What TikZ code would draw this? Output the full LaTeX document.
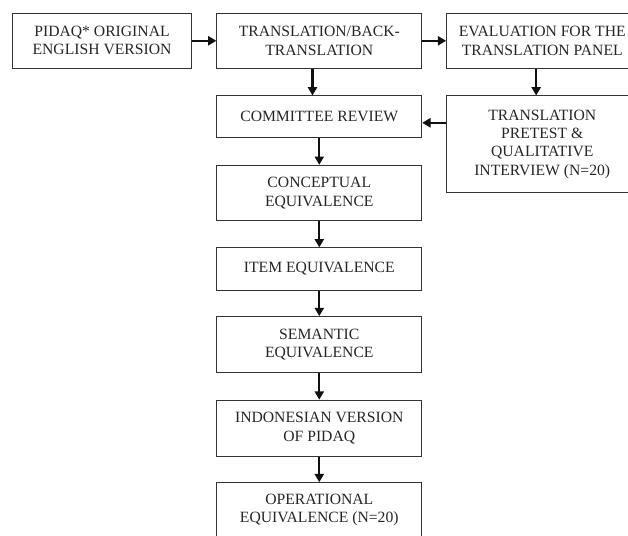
\documentclass[tikz,border=0pt]{standalone}
\usepackage{fontspec}
\setmainfont{Liberation Serif}
\usetikzlibrary{arrows.meta}
\definecolor{pidaqDark}{HTML}{262626}
\definecolor{pidaqLine}{HTML}{333333}
\definecolor{pidaqArrow}{HTML}{111111}
\tikzset{
  pidaq box/.style={
    draw=pidaqLine, line width=0.75pt, fill=white,
    align=center, inner sep=0pt, text=pidaqDark,
    font=\fontsize{11.8}{13.7}\selectfont,
  },
  pidaq arrow/.style={
    pidaqArrow, line width=1.8pt,
    -{Triangle[length=2.2mm, width=2.4mm]},
  },
}

\begin{document}
\begin{tikzpicture}[line join=miter]
  % Frame (page is cut at the right and bottom edge)
  \useasboundingbox (0,0) rectangle (16.62,14.16);
  \clip (0,0) rectangle (16.62,14.16);

  % ---- Top row ----
  \node[pidaq box, minimum width=4.74cm, minimum height=1.46cm] (orig)
    at (2.70,13.08) {PIDAQ* ORIGINAL\\ENGLISH VERSION};
  \node[pidaq box, minimum width=5.42cm, minimum height=1.46cm] (transl)
    at (8.45,13.08) {TRANSLATION/BACK-\\TRANSLATION};
  \node[pidaq box, minimum width=5.06cm, minimum height=1.46cm] (panel)
    at (14.35,13.08) {EVALUATION FOR THE\\TRANSLATION PANEL};

  % ---- Pretest branch ----
  \node[pidaq box, minimum width=5.06cm, minimum height=2.56cm] (pretest)
    at (14.35,10.34) {TRANSLATION\\PRETEST \&\\QUALITATIVE\\INTERVIEW (N=20)};

  % ---- Main column ----
  \node[pidaq box, minimum width=5.42cm, minimum height=1.10cm] (review)
    at (8.45,11.07) {COMMITTEE REVIEW};
  \node[pidaq box, minimum width=5.42cm, minimum height=1.47cm] (concept)
    at (8.45,9.05) {CONCEPTUAL\\EQUIVALENCE};
  \node[pidaq box, minimum width=5.42cm, minimum height=1.12cm] (item)
    at (8.45,7.04) {ITEM EQUIVALENCE};
  \node[pidaq box, minimum width=5.42cm, minimum height=1.48cm] (semantic)
    at (8.45,5.04) {SEMANTIC\\EQUIVALENCE};
  \node[pidaq box, minimum width=5.42cm, minimum height=1.48cm] (indo)
    at (8.45,2.83) {INDONESIAN VERSION\\OF PIDAQ};
  \node[pidaq box, minimum width=5.42cm, minimum height=1.45cm] (oper)
    at (8.45,0.66) {OPERATIONAL\\EQUIVALENCE (N=20)};

  % Arrows
  \draw[pidaq arrow] (orig.east) -- (transl.west);
  \draw[pidaq arrow] (transl.east) -- (panel.west);
  \draw[pidaq arrow] ([xshift=-0.18cm]transl.south) -- ([xshift=-0.18cm]review.north);
  \draw[pidaq arrow] ([xshift=-0.16cm]panel.south) -- ([xshift=-0.16cm]pretest.north);
  \draw[pidaq arrow] ([yshift=-0.16cm]review.east -| pretest.west) -- ([yshift=-0.16cm]review.east);
  \draw[pidaq arrow] (review.south) -- (concept.north);
  \draw[pidaq arrow] (concept.south) -- (item.north);
  \draw[pidaq arrow] (item.south) -- (semantic.north);
  \draw[pidaq arrow] (semantic.south) -- (indo.north);
  \draw[pidaq arrow] (indo.south) -- (oper.north);
\end{tikzpicture}
\end{document}
